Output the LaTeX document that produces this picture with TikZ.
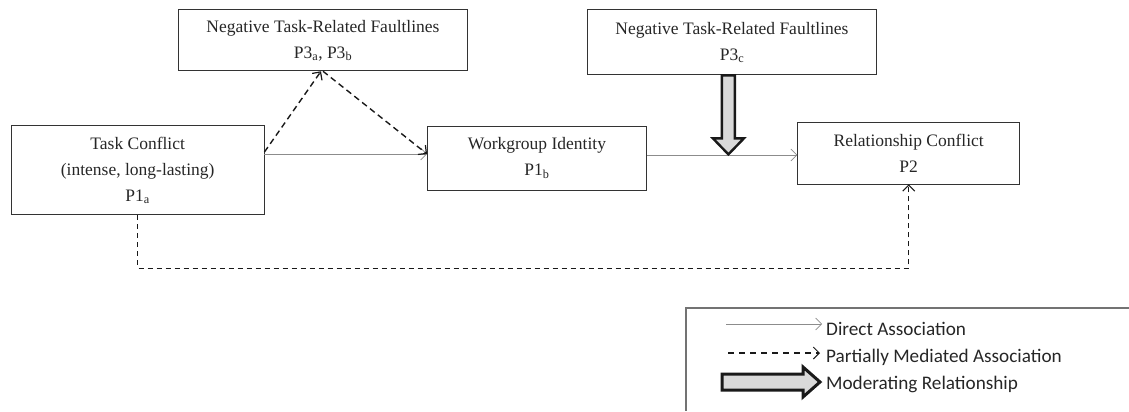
\documentclass[tikz,border=0pt]{standalone}
\usepackage{fontspec}
\setmainfont{Liberation Serif}
\newfontfamily\legendfont{Carlito}
\usetikzlibrary{arrows.meta,calc}
\begin{document}
\begin{tikzpicture}[x=1bp,y=-1bp,
 box/.style={draw=black!80, line width=0.9bp, inner sep=0pt, align=center,
   font=\fontsize{17.5bp}{26bp}\selectfont, text=black!85},
 direct/.style={draw=black!45, line width=0.7bp,
   -{Straight Barb[length=6bp,width=12bp,line width=0.6bp]}},
 mediated/.style={draw=black!90, line width=1.4bp, dash pattern=on 6bp off 4bp,
   -{Straight Barb[length=6bp,width=12bp,line width=1.2bp]}},
 mediatedthin/.style={draw=black!90, line width=1bp, dash pattern=on 5bp off 4bp,
   -{Straight Barb[length=6bp,width=12bp,line width=1bp]}},
 modarrow/.style={draw=black!90, line width=2.4bp, fill=black!15, miter limit=4, line join=miter},
 legendline/.style={draw=black!55, line width=1.2bp},
 legendtext/.style={anchor=base west, inner sep=0pt, font=\legendfont\fontsize{19.2bp}{23bp}\selectfont, text=black!85}
]
\useasboundingbox (0,0) rectangle (1129,411);

% boxes
\node[box, minimum width=289bp, minimum height=61bp] (nf1) at (323,40.3)
  {Negative Task-Related Faultlines\\P3\textsubscript{a}, P3\textsubscript{b}};
\node[box, minimum width=252.6bp, minimum height=89bp] (tc) at (137.7,170.4)
  {Task Conflict\\(intense, long-lasting)\\P1\textsubscript{a}};
\node[box, minimum width=219bp, minimum height=64bp] (wi) at (537,158)
  {Workgroup Identity\\P1\textsubscript{b}};
\node[box, minimum width=289bp, minimum height=65bp] (nf2) at (732,42.4)
  {Negative Task-Related Faultlines\\P3\textsubscript{c}};
\node[box, minimum width=222bp, minimum height=62bp] (rc) at (908.7,153)
  {Relationship Conflict\\P2};

% direct associations
\draw[direct] (tc.east |- 0,154) -- (wi.west |- 0,154);
\draw[direct] (wi.east |- 0,155) -- (rc.west |- 0,155);

% partially mediated
\draw[mediated] (tc.east |- 0,152) -- ($(nf1.south)+(-2,0)$);
\draw[mediated] (nf1.south) -- (wi.west |- 0,154);
\draw[mediatedthin] (tc.south) -- ++(0,53) -| (rc.south);

% moderating arrow
\coordinate (mtop) at ($(nf2.south)+(-3.6,0)$);
\draw[modarrow] ($(mtop)+(-6.5,0)$) -- ($(mtop)+(-6.5,63)$) -- ($(mtop)+(-15.5,63)$)
  -- ($(mtop)+(0,79)$) -- ($(mtop)+(15.5,63)$) -- ($(mtop)+(6.5,63)$)
  -- ($(mtop)+(6.5,0)$) -- cycle;

% legend
\coordinate (lgtl) at (686,308);
\draw[legendline] (1129,308) -- (lgtl) -- (686,411);
\coordinate (l1a) at (726,324);
\coordinate (l1b) at (822,324);
\draw[direct] (l1a) -- (l1b);
\coordinate (l2a) at (728,353);
\coordinate (l2b) at (820,353);
\draw[mediatedthin, line width=1.3bp, dash pattern=on 6bp off 5bp] (l2a) -- (l2b);
\coordinate (l3) at (722,382);
\draw[modarrow, line width=3bp] ($(l3)+(0,-8)$) -- ($(l3)+(81,-8)$) -- ($(l3)+(81,-15)$)
  -- ($(l3)+(98,0)$) -- ($(l3)+(81,15)$) -- ($(l3)+(81,8)$) -- ($(l3)+(0,8)$) -- cycle;
\node[legendtext] (t1) at (826,335) {Direct Association};
\node[legendtext] (t2) at (826,362) {Partially Mediated Association};
\node[legendtext] (t3) at (826,389) {Moderating Relationship};
\end{tikzpicture}
\end{document}
